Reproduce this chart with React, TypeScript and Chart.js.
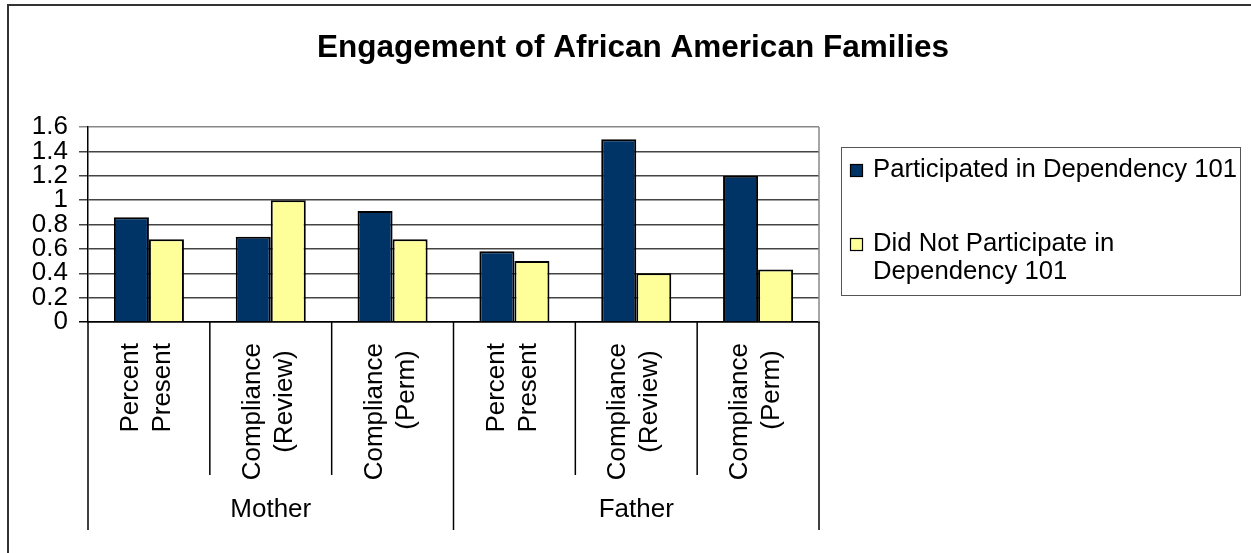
import React, { useEffect, useRef } from 'react';
import { Chart, registerables } from 'chart.js';

Chart.register(...registerables);

const chartTitle = 'Engagement of African American Families';
const categories: string[][] = [
  ['Percent', 'Present'],
  ['Compliance', '(Review) '],
  ['Compliance', '(Perm) '],
  ['Percent', 'Present'],
  ['Compliance', '(Review) '],
  ['Compliance', '(Perm) '],
];
const groups = ['Mother', 'Father'];
const groupSizes = [3, 3];
const seriesNames = ['Participated in Dependency 101', 'Did Not Participate in Dependency 101'];
const legendLines = [['Participated in Dependency 101'], ['Did Not Participate in', 'Dependency 101']];
const participated = [0.86, 0.7, 0.91, 0.58, 1.5, 1.2];
const notParticipated = [0.68, 1.0, 0.68, 0.5, 0.4, 0.43];
const yTickLabels = ['0', '0.2', '0.4', '0.6', '0.8', '1', '1.2', '1.4', '1.6'];
const seriesColors = ['#003366', '#FFFF99'];

const FONT = '"Liberation Sans", Arial, sans-serif';

export default function App() {
  const ref = useRef<HTMLCanvasElement>(null);

  useEffect(() => {
    document.body.style.margin = '0';
    const canvas = ref.current!;

    const overlay = {
      id: 'overlay',
      afterDraw(chart: any) {
        const ctx = chart.ctx as CanvasRenderingContext2D;
        const area = chart.chartArea;
        const xScale = chart.scales.x;
        const n = categories.length;
        const step = (area.right - area.left) / n;
        ctx.save();

        // plot right border
        ctx.strokeStyle = '#888';
        ctx.lineWidth = 1.5;
        ctx.beginPath();
        ctx.moveTo(area.right, area.top);
        ctx.lineTo(area.right, area.bottom);
        ctx.stroke();

        // category separators
        const groupEdges = new Set<number>();
        let acc = 0;
        groupEdges.add(0);
        groupSizes.forEach((s) => {
          acc += s;
          groupEdges.add(acc);
        });
        ctx.strokeStyle = '#000';
        ctx.lineWidth = 1.5;
        for (let k = 0; k <= n; k++) {
          const x = area.left + k * step;
          const yEnd = groupEdges.has(k) ? 530 : 475;
          ctx.beginPath();
          ctx.moveTo(x, area.bottom);
          ctx.lineTo(x, yEnd);
          ctx.stroke();
        }

        // category labels (rotated, two lines)
        ctx.fillStyle = '#000';
        ctx.font = `26px ${FONT}`;
        ctx.textAlign = 'right';
        ctx.textBaseline = 'middle';
        categories.forEach((lines, i) => {
          const cx = xScale.getPixelForValue(i);
          lines.forEach((line, j) => {
            ctx.save();
            ctx.translate(cx - 18 + j * 32, area.bottom + 21);
            ctx.rotate(-Math.PI / 2);
            ctx.fillText(line, 0, 0);
            ctx.restore();
          });
        });

        // group labels
        ctx.font = `26px ${FONT}`;
        ctx.textAlign = 'center';
        ctx.textBaseline = 'middle';
        let start = 0;
        groups.forEach((g, i) => {
          const cx = area.left + (start + groupSizes[i] / 2) * step;
          ctx.fillText(g, cx, 510);
          start += groupSizes[i];
        });

        // legend
        ctx.strokeStyle = '#555';
        ctx.lineWidth = 1;
        ctx.strokeRect(841.5, 147.5, 399, 148);
        const itemY = [170, 244];
        ctx.font = `25.7px ${FONT}`;
        ctx.textAlign = 'left';
        seriesNames.forEach((_, i) => {
          ctx.fillStyle = seriesColors[i];
          ctx.fillRect(850, itemY[i] - 6, 13, 13);
          ctx.strokeStyle = '#000';
          ctx.lineWidth = 1.2;
          ctx.strokeRect(850.5, itemY[i] - 5.5, 12, 12);
          ctx.fillStyle = '#000';
          legendLines[i].forEach((line, j) => {
            ctx.fillText(line, 873, itemY[i] + j * 28);
          });
        });

        // title
        ctx.font = `bold 31.5px ${FONT}`;
        ctx.textAlign = 'center';
        ctx.textBaseline = 'alphabetic';
        ctx.fillText(chartTitle, 633, 57);

        // outer frame
        ctx.strokeStyle = '#333';
        ctx.lineWidth = 2;
        ctx.strokeRect(8, 5, 1400, 700);

        ctx.restore();
      },
    };

    const chart = new Chart(canvas, {
      type: 'bar',
      data: {
        labels: categories,
        datasets: [
          {
            label: seriesNames[0],
            data: participated,
            backgroundColor: seriesColors[0],
            borderColor: '#000',
            borderWidth: 2,
          },
          {
            label: seriesNames[1],
            data: notParticipated,
            backgroundColor: seriesColors[1],
            borderColor: '#000',
            borderWidth: 2,
          },
        ],
      },
      options: {
        animation: false,
        responsive: false,
        devicePixelRatio: 1,
        datasets: { bar: { categoryPercentage: 0.575, barPercentage: 1 } },
        layout: { padding: { top: 127, right: 432, bottom: 0, left: 0 } },
        plugins: {
          legend: { display: false },
          title: { display: false },
          tooltip: { enabled: false },
        },
        scales: {
          x: {
            grid: { display: false, drawTicks: false },
            border: { display: true, color: '#000', width: 1.5 },
            ticks: { display: false },
            afterFit: (scale: any) => {
              scale.height = 231;
            },
          },
          y: {
            min: 0,
            max: 1.6,
            grid: {
              color: (c: any) => {
                const v = c.tick ? c.tick.value : 0;
                if (Math.abs(v) < 1e-9) return '#000';
                if (v > 1.59) return '#888';
                return '#444';
              },
              lineWidth: 1.5,
              drawTicks: true,
              tickLength: 9,
            },
            border: { display: true, color: '#000', width: 1.5 },
            ticks: {
              stepSize: 0.2,
              autoSkip: false,
              color: '#000',
              padding: 11,
              font: { family: FONT, size: 26 },
              callback: (_v: any, i: number) => yTickLabels[i],
            },
            afterFit: (scale: any) => {
              scale.width = 88;
            },
          },
        },
      },
      plugins: [overlay],
    } as any);

    return () => chart.destroy();
  }, []);

  return (
    <canvas
      ref={ref}
      width={1251}
      height={553}
      style={{ display: 'block', width: '1251px', height: '553px' }}
    />
  );
}
